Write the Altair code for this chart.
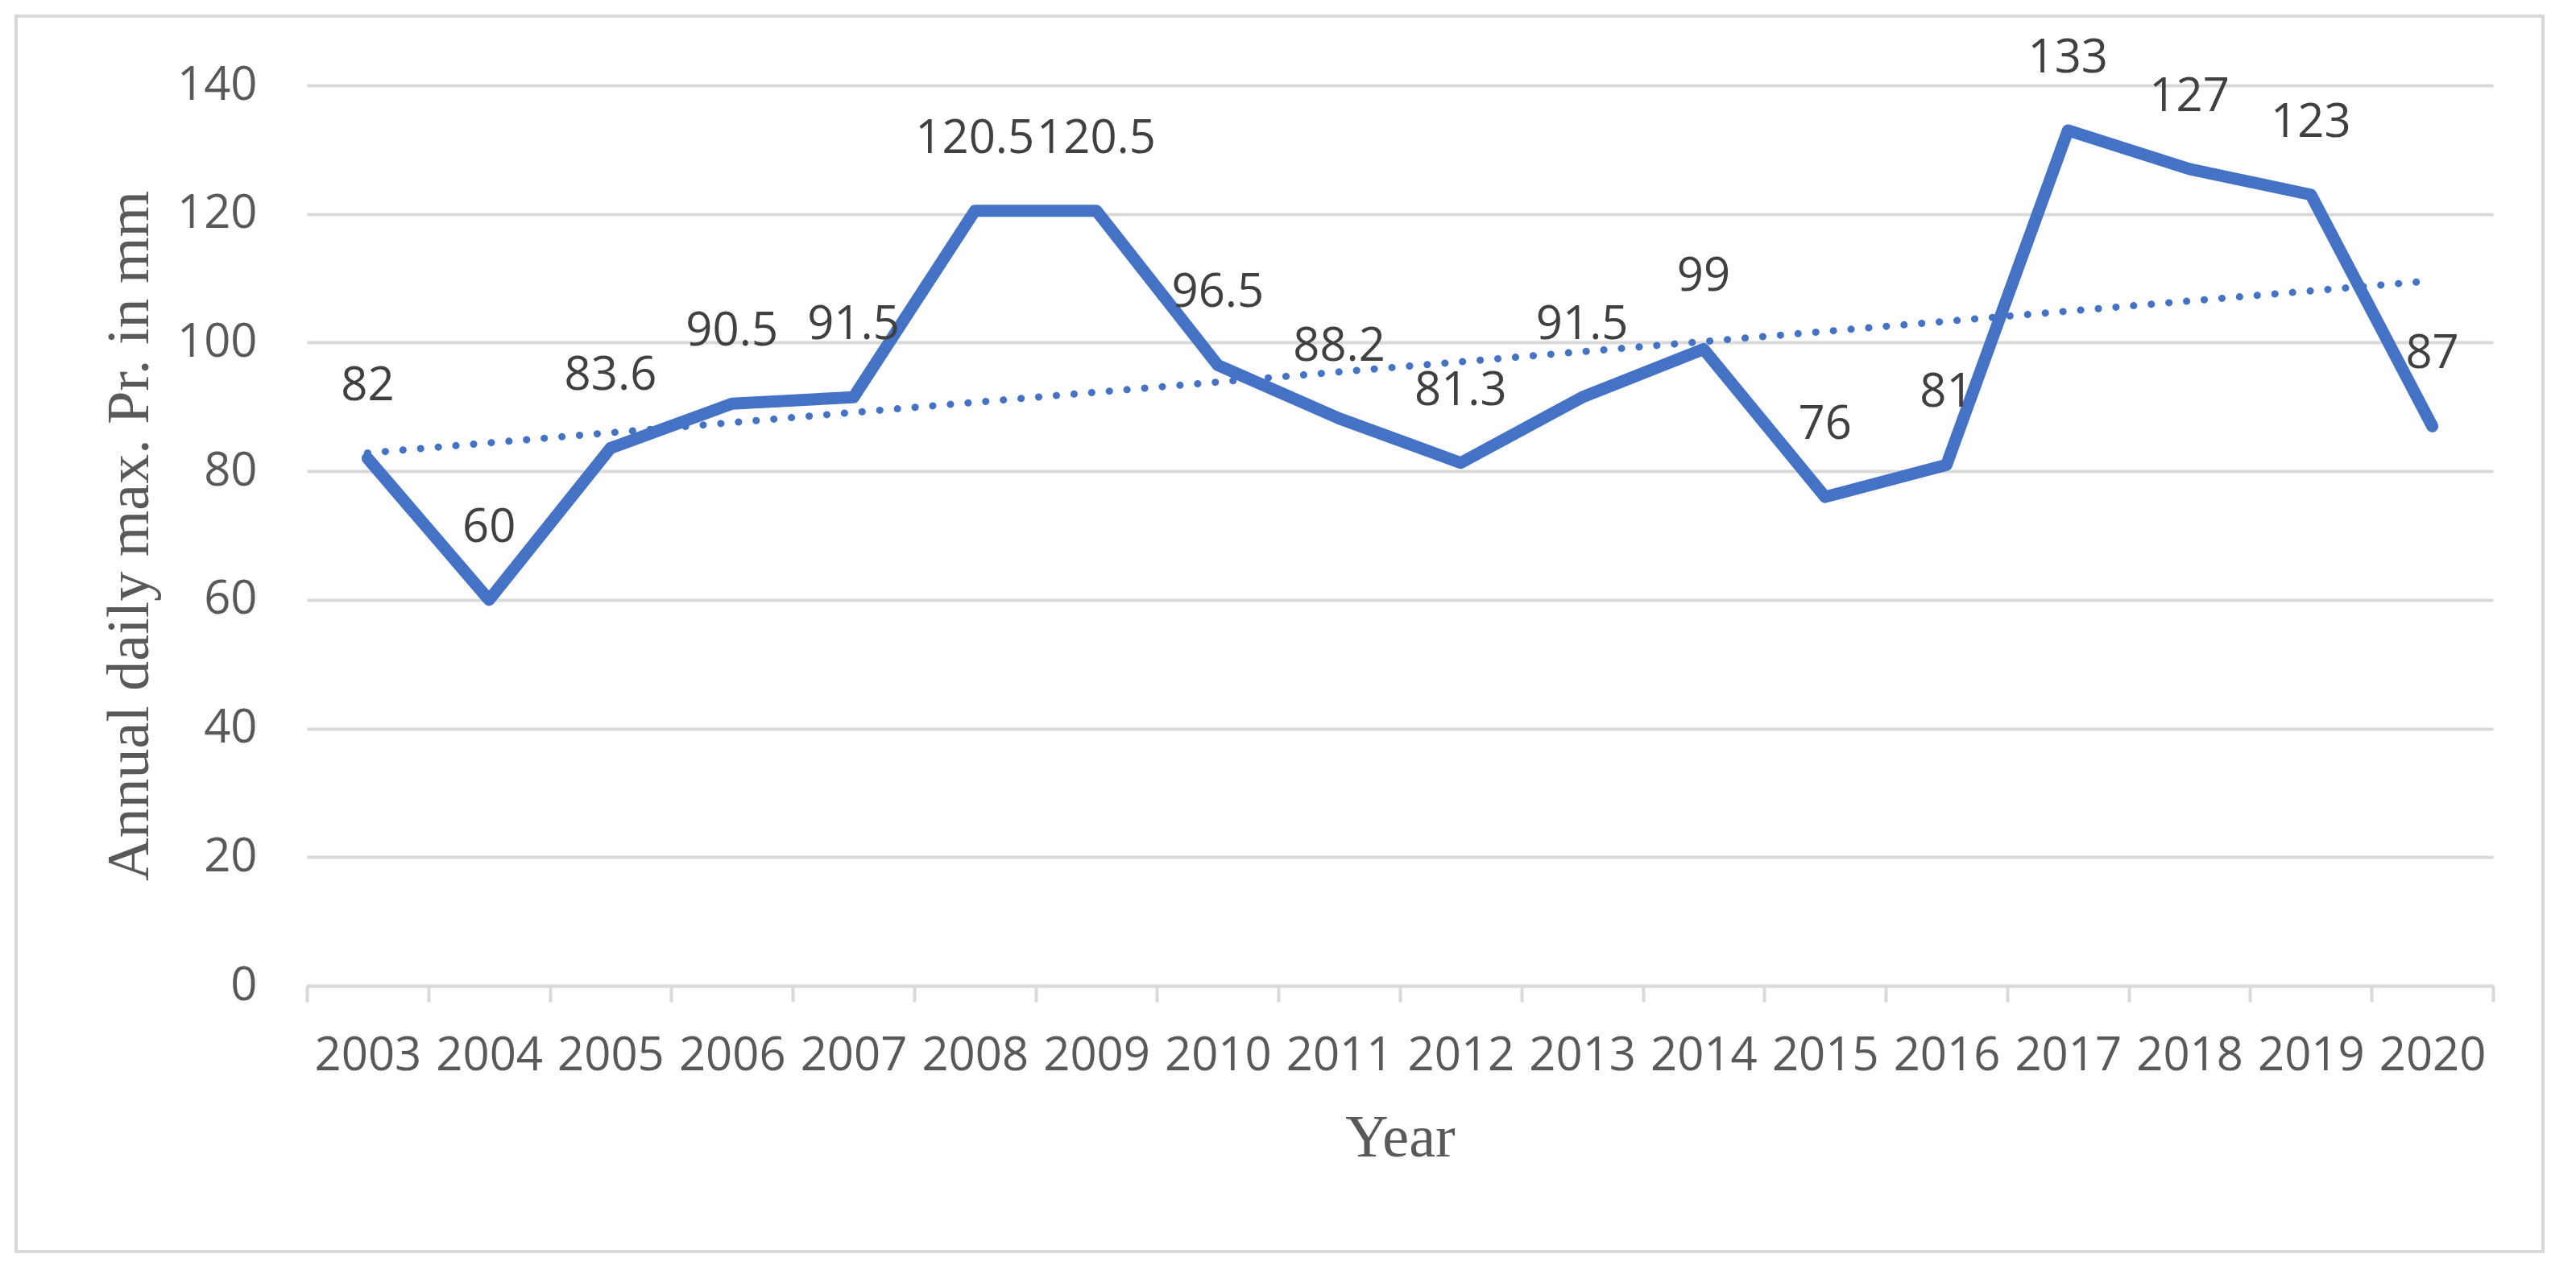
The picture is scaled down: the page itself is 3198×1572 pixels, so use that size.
import altair as alt
import pandas as pd

years = list(range(2003, 2021))
values = [82, 60, 83.6, 90.5, 91.5, 120.5, 120.5, 96.5, 88.2, 81.3, 91.5, 99, 76, 81, 133, 127, 123, 87]
labels = ["82", "60", "83.6", "90.5", "91.5", "120.5", "120.5", "96.5", "88.2", "81.3",
          "91.5", "99", "76", "81", "133", "127", "123", "87"]
y_ticks = [0, 20, 40, 60, 80, 100, 120, 140]

df = pd.DataFrame({"year": years, "value": values, "label": labels})

LABEL_FONT = "Open Sans"
TITLE_FONT = "Liberation Serif"
GRAY = "#595959"
LIGHT = "#D9D9D9"
BLUE = "#4472C4"

W, H = 2714, 1118

x_enc = alt.X(
    "year:O",
    bandPosition=0.5,
    scale=alt.Scale(type="band", domain=years, paddingInner=0, paddingOuter=0),
    axis=alt.Axis(
        title="Year", labelAngle=0, labelFont=LABEL_FONT, labelFontSize=58,
        labelColor=GRAY, labelPadding=38, domainColor=LIGHT, domainWidth=4,
        tickColor=LIGHT, tickWidth=4, tickSize=20, tickBand="extent", grid=False,
        titleFont=TITLE_FONT, titleFontSize=74, titleFontWeight="normal",
        titleColor=GRAY, titleX=W / 2, titleY=189, titleBaseline="middle",
    ),
)
y_enc = alt.Y(
    "value:Q",
    scale=alt.Scale(domain=[0, 140], nice=False),
    axis=alt.Axis(
        values=y_ticks, title="Annual daily max. Pr. in mm", grid=True,
        gridColor=LIGHT, gridWidth=4, domain=False, ticks=False, tickSize=0,
        labelPadding=62, labelFont=LABEL_FONT, labelFontSize=58, labelColor=GRAY,
        titleFont=TITLE_FONT, titleFontSize=74, titleFontWeight="normal",
        titleColor=GRAY, titleX=-220, titleY=H / 2, titleBaseline="middle",
        titleAngle=270, titleAlign="center",
    ),
)

frame = alt.Chart(pd.DataFrame({"f": [0]})).mark_rect(
    fillOpacity=0, stroke=LIGHT, strokeWidth=4
).encode(
    x=alt.value(-361), x2=alt.value(2776), y=alt.value(-86), y2=alt.value(1448)
)

trend = alt.Chart(df).transform_regression("year", "value").mark_line(
    color=BLUE, strokeWidth=9, strokeDash=[0.1, 21.9], strokeCap="round"
).encode(x=x_enc, y=y_enc)

line = alt.Chart(df).mark_line(
    color=BLUE, strokeWidth=15, strokeJoin="round", strokeCap="round"
).encode(x=x_enc, y=y_enc)

text = alt.Chart(df).mark_text(
    font=LABEL_FONT, fontSize=58, color="#404040", baseline="alphabetic",
    align="center", dy=-72
).encode(x=x_enc, y=y_enc, text="label:N")

chart = alt.layer(frame, trend, line, text).properties(
    width=W, height=H,
    autosize=alt.AutoSizeParams(type="none"),
    padding={"left": 373, "top": 98, "right": 95, "bottom": 340},
    background="white",
).configure_view(stroke=None)

chart.save("out.html", embed_options={"renderer": "svg", "actions": False})
